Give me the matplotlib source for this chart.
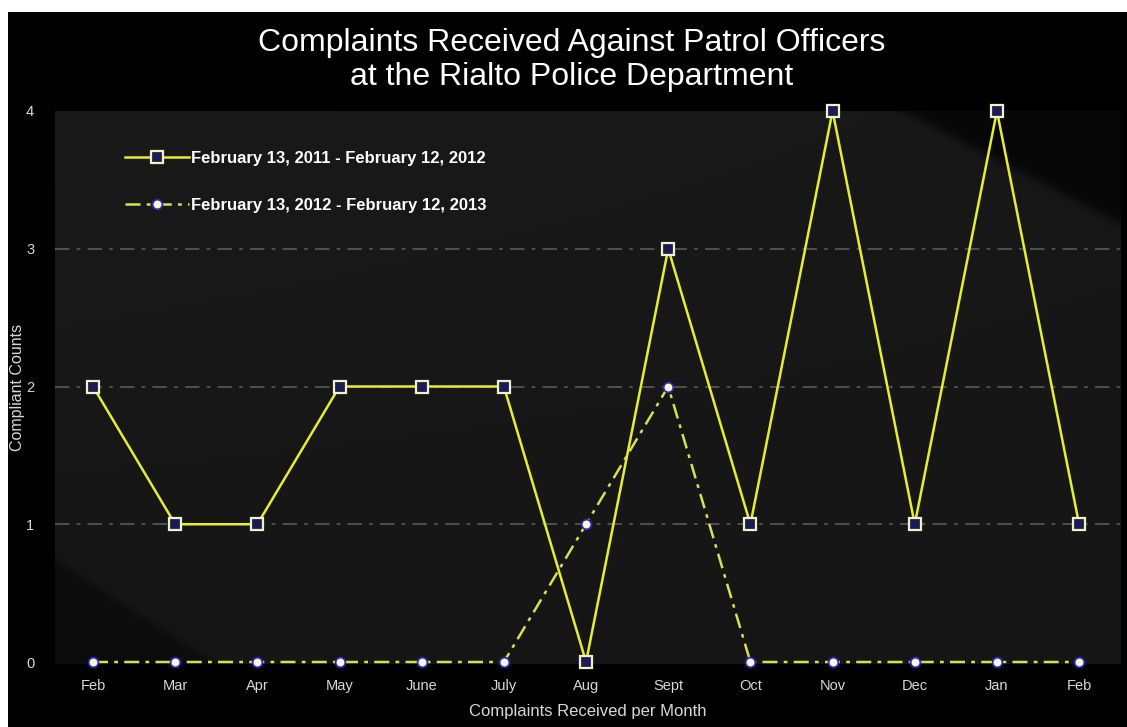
import matplotlib
matplotlib.use("Agg")
import matplotlib.pyplot as plt
import numpy as np
from matplotlib.patches import Rectangle

months = ["Feb", "Mar", "Apr", "May", "June", "July", "Aug", "Sept", "Oct", "Nov", "Dec", "Jan", "Feb"]
period_2011 = [2, 1, 1, 2, 2, 2, 0, 3, 1, 4, 1, 4, 1]
period_2012 = [0, 0, 0, 0, 0, 0, 1, 2, 0, 0, 0, 0, 0]
label_2011 = "February 13, 2011 - February 12, 2012"
label_2012 = "February 13, 2012 - February 12, 2013"
yticks = [0, 1, 2, 3, 4]

plt.rcParams['font.family'] = ['Liberation Sans', 'DejaVu Sans']

W, H = 1127, 727
fig = plt.figure(figsize=(W / 100, H / 100), dpi=100, facecolor='white')
fig.patches.append(Rectangle((8 / W, 0), 1 - 8 / W, (H - 12) / H, transform=fig.transFigure,
                             facecolor='black', edgecolor='none', zorder=-10))

left, right, top, bottom = 55, 1121, 111, 664
ax = fig.add_axes([left / W, (H - bottom) / H, (right - left) / W, (bottom - top) / H])
ax.set_facecolor('none')
ax.set_zorder(1)

x = np.arange(len(months))
xlim = (-0.4625, 12.51)
ylim = (-0.0145, 4.0)
ax.set_xlim(*xlim)
ax.set_ylim(*ylim)

# background panel with darker corners
ny, nx = 300, 600
gx, gy = np.meshgrid(np.linspace(0, 1, nx), np.linspace(0, 1, ny))
val = 0.085 + 0.015 * (1 - gy) * (1 - 0.5 * gx)
s_tr = 1 / (1 + np.exp(-(gy - (0.002 + (gx - 0.80) * 1.0)) / 0.006))
s_ll = 1 / (1 + np.exp((gy - (0.812 + gx * 1.27)) / 0.006))
val = val * (0.3 + 0.7 * s_tr) * (0.55 + 0.45 * s_ll)
img = np.dstack([val, val, val])
ax.imshow(img, extent=[xlim[0], xlim[1], ylim[0], ylim[1]], aspect='auto', zorder=0,
          interpolation='bilinear')

for yv in [1, 2, 3]:
    ax.axhline(yv, color='#555555', lw=1.3, dashes=(8, 4, 2, 4), zorder=1)

ax.plot(x, period_2011, color='#e8ec30', lw=1.8, marker='s', markersize=8.5,
        markerfacecolor='#1c1c55', markeredgecolor='#f2f2c8', markeredgewidth=1.6,
        label=label_2011, zorder=4, clip_on=False)
ax.plot(x, period_2012, color='#d8e050', lw=1.8, dashes=(6, 2.5, 1.5, 2.5), marker='o', markersize=7,
        markerfacecolor='#f8f8e0', markeredgecolor='#2a2ab0', markeredgewidth=1.3,
        label=label_2012, zorder=3, clip_on=False)

ax.set_xticks(x)
ax.set_xticklabels(months)
ax.set_yticks(yticks)
ax.tick_params(axis='both', length=0, colors='#d8d8d8', labelsize=10.5)
ax.tick_params(axis='x', pad=11)
ax.tick_params(axis='y', pad=15)
for s in ax.spines.values():
    s.set_visible(False)

ax.set_xlabel("Complaints Received per Month", color='#d8d8d8', fontsize=12, labelpad=8)
ax.set_ylabel("Compliant Counts", color='#d8d8d8', fontsize=11.5)
ax.yaxis.set_label_coords((25 - left) / (right - left), 0.5)

fig.text(572 / W, 1 - 43 / H, "Complaints Received Against Patrol Officers", color='white',
         fontsize=23, ha='center', va='center')
fig.text(572 / W, 1 - 77 / H, "at the Rialto Police Department", color='white',
         fontsize=23, ha='center', va='center')

leg = ax.legend(loc='upper left', bbox_to_anchor=(0.052, 0.955), frameon=False, labelspacing=1.9,
                handlelength=3.8, handletextpad=0.15, prop={'weight': 'bold', 'size': 12})
for t in leg.get_texts():
    t.set_color('white')

fig.savefig('out.png', dpi=100, facecolor=fig.get_facecolor())
